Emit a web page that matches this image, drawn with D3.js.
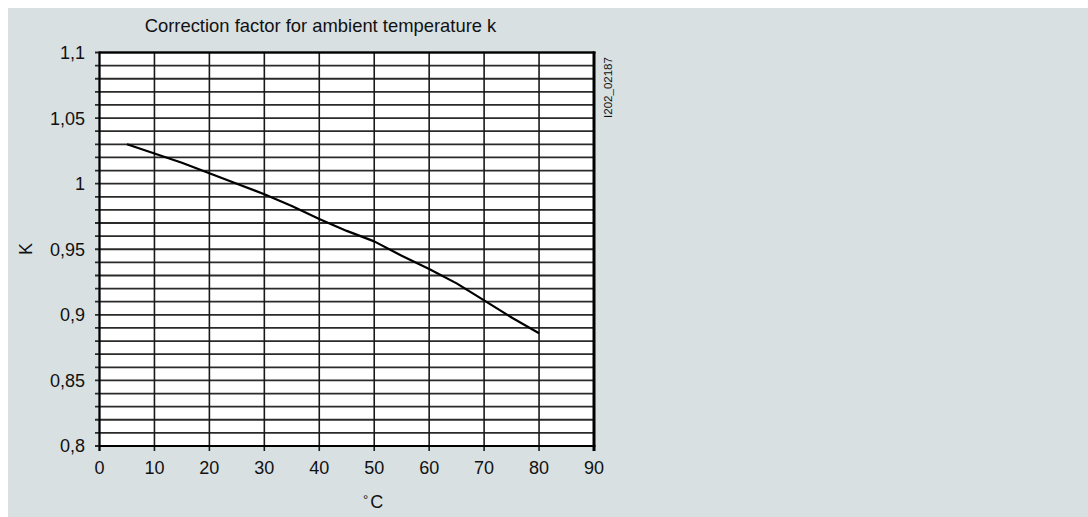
<!DOCTYPE html>
<html>
<head>
<meta charset="utf-8">
<script src="https://cdn.jsdelivr.net/npm/d3@7"></script>
<style>
  html, body { margin: 0; padding: 0; background: #ffffff; }
  svg { display: block; }
  text { font-family: "Liberation Sans", Arial, sans-serif; fill: #111; }
</style>
</head>
<body>
<svg id="chart" width="1088" height="517"></svg>
<script>
// Ambient temperature (°C) and correction factor k
const temperatures = [5, 10, 15, 20, 25, 30, 35, 40, 45, 50, 55, 60, 65, 70, 75, 80];
const factors = [1.030, 1.023, 1.016, 1.008, 1.000, 0.992, 0.983, 0.973, 0.964, 0.956, 0.945, 0.935, 0.924, 0.911, 0.898, 0.886];

const xTicks = [0, 10, 20, 30, 40, 50, 60, 70, 80, 90];
const yTicks = [0.8, 0.85, 0.9, 0.95, 1, 1.05, 1.1];
const yLabels = ["0,8", "0,85", "0,9", "0,95", "1", "1,05", "1,1"];
const yMinor = d3.range(80, 111).map(v => v / 100);

const titleText = "Correction factor for ambient temperature k";
const drawingId = "I202_02187";

const svg = d3.select("#chart");
const W = 1088, H = 517;

// panel background
svg.append("rect").attr("x", 8).attr("y", 8).attr("width", W - 8).attr("height", H - 8)
  .attr("fill", "#d8e0e2");

const plot = { left: 99.5, right: 594, top: 52.5, bottom: 446 };

const x = d3.scaleLinear().domain([0, 90]).range([plot.left, plot.right]);
const y = d3.scaleLinear().domain([0.8, 1.1]).range([plot.bottom, plot.top]);

// white plot area
svg.append("rect")
  .attr("x", plot.left).attr("y", plot.top)
  .attr("width", plot.right - plot.left).attr("height", plot.bottom - plot.top)
  .attr("fill", "#ffffff");

// horizontal grid every 0.01
svg.append("g").selectAll("line").data(yMinor).join("line")
  .attr("x1", plot.left - 4.5).attr("x2", plot.right)
  .attr("y1", d => y(d)).attr("y2", d => y(d))
  .attr("stroke", "#2a2a2a").attr("stroke-width", 1.8);

// vertical grid every 10
svg.append("g").selectAll("line").data(xTicks).join("line")
  .attr("x1", d => x(d)).attr("x2", d => x(d))
  .attr("y1", plot.top).attr("y2", plot.bottom + 5)
  .attr("stroke", "#1a1a1a").attr("stroke-width", 1.6);

// frame
svg.append("line").attr("x1", plot.left).attr("x2", plot.right + 1.5)
  .attr("y1", plot.top).attr("y2", plot.top).attr("stroke", "#000").attr("stroke-width", 2.2);
svg.append("line").attr("x1", plot.left).attr("x2", plot.right + 1.5)
  .attr("y1", plot.bottom).attr("y2", plot.bottom).attr("stroke", "#000").attr("stroke-width", 2.2);
svg.append("line").attr("x1", plot.right).attr("x2", plot.right)
  .attr("y1", plot.top - 1).attr("y2", plot.bottom + 5).attr("stroke", "#000").attr("stroke-width", 3);
svg.append("line").attr("x1", plot.left).attr("x2", plot.left)
  .attr("y1", plot.top - 1).attr("y2", plot.bottom + 5).attr("stroke", "#000").attr("stroke-width", 2);

// y tick labels
svg.append("g").selectAll("text").data(yTicks).join("text")
  .attr("x", 85).attr("y", d => y(d)).attr("dy", "0.36em")
  .attr("text-anchor", "end").attr("font-size", 18)
  .text((d, i) => yLabels[i]);

// x tick labels
svg.append("g").selectAll("text").data(xTicks).join("text")
  .attr("x", d => x(d)).attr("y", 474)
  .attr("text-anchor", "middle").attr("font-size", 18)
  .text(d => d);

// curve
const line = d3.line().x(d => x(d[0])).y(d => y(d[1]));
svg.append("path")
  .datum(temperatures.map((t, i) => [t, factors[i]]))
  .attr("d", line)
  .attr("fill", "none").attr("stroke", "#000").attr("stroke-width", 2.2)
  .attr("stroke-linejoin", "round");

// title
svg.append("text").attr("x", 320.5).attr("y", 32)
  .attr("text-anchor", "middle").attr("font-size", 18.4)
  .text(titleText);

// axis titles
svg.append("text").attr("transform", "translate(32,249) rotate(-90)")
  .attr("text-anchor", "middle").attr("font-size", 18).text("K");

const xt = svg.append("text").attr("x", 363).attr("y", 508).attr("font-size", 18);
xt.append("tspan").attr("font-size", 13).attr("dy", -4).text("°");
xt.append("tspan").attr("dy", 4).attr("dx", 2).text("C");

// drawing number
svg.append("text").attr("transform", "translate(612,87.5) rotate(-90)")
  .attr("text-anchor", "middle").attr("font-size", 11.5).text(drawingId);
</script>
</body>
</html>
